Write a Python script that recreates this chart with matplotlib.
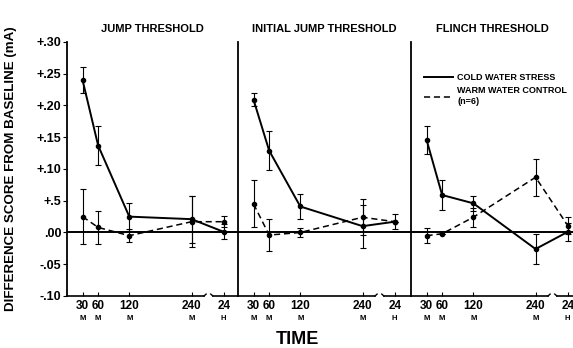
import matplotlib
matplotlib.use("Agg")
from matplotlib import pyplot as plt

plt.rcParams['font.family'] = ['Liberation Sans', 'DejaVu Sans']

# time points (minutes); 24 H is drawn after an axis break
time_labels = ['30', '60', '120', '240', '24']
time_units = ['M', 'M', 'M', 'M', 'H']
time_min = [30, 60, 120, 240]
pos_24h = 302

titles = ['JUMP THRESHOLD', 'INITIAL JUMP THRESHOLD', 'FLINCH THRESHOLD']

cold = [[0.240, 0.137, 0.025, 0.021, 0.001],
        [0.209, 0.129, 0.041, 0.010, 0.017],
        [0.146, 0.059, 0.046, -0.026, 0.001]]
cold_err = [[0.021, 0.030, 0.022, 0.037, 0.012],
            [0.010, 0.031, 0.020, 0.034, 0.012],
            [0.022, 0.024, 0.012, 0.024, 0.014]]
warm = [[0.025, 0.008, -0.005, 0.017, 0.017],
        [0.045, -0.004, 0.000, 0.024, 0.017],
        [-0.005, -0.002, 0.024, 0.087, 0.011]]
warm_err = [[0.043, 0.026, 0.010, 0.040, 0.009],
            [0.037, 0.025, 0.007, 0.028, 0.000],
            [0.012, 0.000, 0.015, 0.029, 0.013]]

ytick_vals = [0.30, 0.25, 0.20, 0.15, 0.10, 0.05, 0.00, -0.05, -0.10]
ytick_labels = ['+.30', '+.25', '+.20', '+.15', '+.10', '+.5', '.00', '-.05', '-.10']

W, H = 573, 348
fig = plt.figure(figsize=(W / 100, H / 100), dpi=100)

px_per_min = 0.519
edges = [67, 238, 411, 573]
top, bot = 42, 296
x = time_min + [pos_24h]

for k in range(3):
    left, right = edges[k], edges[k + 1]
    ax = fig.add_axes([left / W, 1 - bot / H, (right - left) / W, (bot - top) / H])
    xmax = (right - left) / px_per_min
    ax.set_xlim(0, xmax)
    ax.set_ylim(-0.10, 0.30)
    for s in ['top', 'right', 'bottom']:
        ax.spines[s].set_visible(False)
    ax.spines['left'].set_linewidth(1.3)

    ax.axhline(0, color='black', lw=1.4, zorder=1)

    ax.errorbar(x, cold[k], yerr=cold_err[k], color='black', lw=1.4, marker='o', ms=3,
                elinewidth=0.8, capsize=2, capthick=0.8, zorder=3)
    ax.errorbar(x, warm[k], yerr=warm_err[k], color='black', lw=1.1, ls=(0, (4, 2.5)), marker='o', ms=3,
                elinewidth=0.8, capsize=2, capthick=0.8, zorder=3)

    # broken bottom axis
    ax.plot([0, 264], [-0.10, -0.10], color='black', lw=1.2, clip_on=False)
    ax.plot([264, 268], [-0.10, -0.097], color='black', lw=1.0, clip_on=False)
    ax.plot([277, 281], [-0.097, -0.10], color='black', lw=1.0, clip_on=False)
    ax.plot([281, xmax], [-0.10, -0.10], color='black', lw=1.2, clip_on=False)

    ax.set_xticks(x)
    ax.set_xticklabels(time_labels, fontsize=8.5, fontweight='bold')
    ax.tick_params(axis='x', direction='in', length=3, width=0.8, pad=3)
    for xi, u in zip(x, time_units):
        ax.annotate(u, (xi, -0.10), xytext=(0, -14), textcoords='offset points',
                    ha='center', va='top', fontsize=5.5, fontweight='bold')

    if k == 0:
        ax.set_yticks(ytick_vals)
        ax.set_yticklabels(ytick_labels, fontsize=9, fontweight='bold')
        ax.tick_params(axis='y', direction='out', length=3, width=0.8, pad=1)
    else:
        ax.set_yticks([])

    ax.set_title(titles[k], fontsize=8, fontweight='bold', pad=7)

    if k == 2:
        ax.plot([], [], color='black', lw=1.4, label='COLD WATER STRESS')
        ax.plot([], [], color='black', lw=1.1, ls=(0, (4, 2.5)), label='WARM WATER CONTROL\n(n=6)')
        ax.legend(loc='upper left', bbox_to_anchor=(0.03, 0.91), frameon=False,
                  handlelength=3.2, handletextpad=0.5, labelspacing=0.5,
                  prop={'weight': 'bold', 'size': 6.5})

fig.text(11 / W, 1 - 169 / H, 'DIFFERENCE SCORE FROM BASELINE (mA)', rotation=90, ha='center', va='center',
         fontsize=9.6, fontweight='bold')
fig.text(297 / W, 1 - 339 / H, 'TIME', ha='center', va='center', fontsize=13, fontweight='bold')

fig.savefig('out.png', dpi=100)
